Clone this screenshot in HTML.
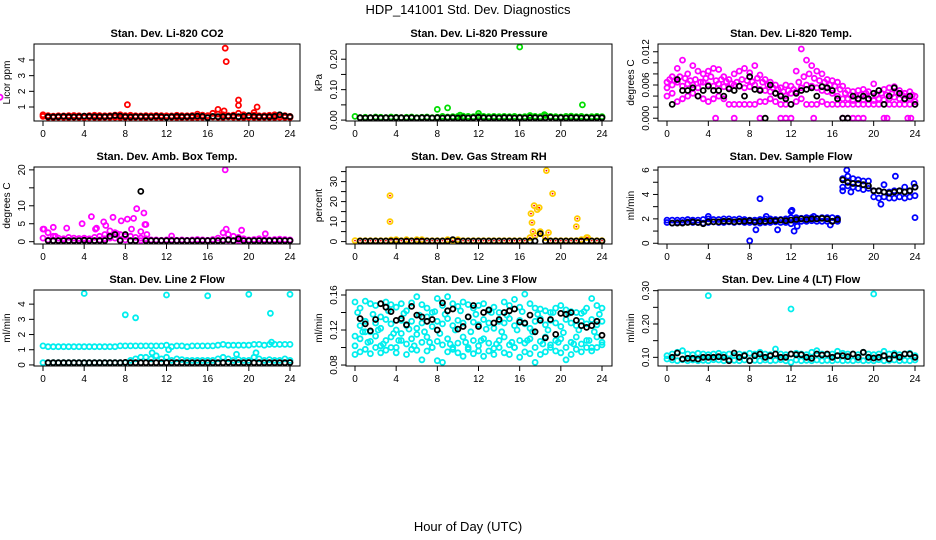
<!DOCTYPE html>
<html><head><meta charset="utf-8">
<style>
html,body{margin:0;padding:0;background:#fff;}
svg{display:block;font-family:"Liberation Sans",sans-serif;}
</style></head>
<body>
<svg id="chart" width="936" height="540" viewBox="0 0 936 540" xmlns="http://www.w3.org/2000/svg">
<rect x="0" y="0" width="936" height="540" fill="#fff"/>
<text x="468" y="14" text-anchor="middle" font-size="13">HDP_141001  Std. Dev. Diagnostics</text>
<text x="468" y="531" text-anchor="middle" font-size="13">Hour of Day (UTC)</text>
</svg>
<script>
const hours = [0,0.5,1,1.5,2,2.5,3,3.5,4,4.5,5,5.5,6,6.5,7,7.5,8,8.5,9,9.5,10,10.5,11,11.5,12,12.5,13,13.5,14,14.5,15,15.5,16,16.5,17,17.5,18,18.5,19,19.5,20,20.5,21,21.5,22,22.5,23,23.5,24];
const hoursOff = [0.25,0.75,1.25,1.75,2.25,2.75,3.25,3.75,4.25,4.75,5.25,5.75,6.25,6.75,7.25,7.75,8.25,8.75,9.25,9.75,10.25,10.75,11.25,11.75,12.25,12.75,13.25,13.75,14.25,14.75,15.25,15.75,16.25,16.75,17.25,17.75,18.25,18.75,19.25,19.75,20.25,20.75,21.25,21.75,22.25,22.75,23.25,23.75];
const xTicks = [0,4,8,12,16,20,24];

// Panel 1: CO2
const co2Red1 = [0.5,0.45,0.42,0.44,0.43,0.45,0.46,0.44,0.42,0.45,0.47,0.46,0.44,0.45,0.48,0.5,0.45,0.47,0.44,0.43,0.45,0.44,0.46,0.45,0.44,0.43,0.47,0.45,0.44,0.46,0.55,0.48,0.45,0.6,0.55,0.5,0.45,0.48,0.6,0.5,0.45,0.48,0.44,0.45,0.47,0.5,0.48,0.45,0.4];
const co2Red2 = [0.4,0.34,0.33,0.35,0.34,0.33,0.35,0.34,0.33,0.35,0.34,0.33,0.35,0.34,0.35,0.33,0.34,0.33,0.35,0.34,0.33,0.35,0.34,0.33,0.34,0.35,0.33,0.34,0.35,0.33,0.34,0.35,0.33,0.36,0.35,0.34,0.36,0.35,0.34,0.33,0.35,0.34,0.33,0.35,0.34,0.33,0.35,0.34,0.33];
const co2RedOutX = [8.2,17.7,17.8,19,19,20.8,17,17.6,20.5];
const co2RedOutY = [1.15,4.75,3.9,1.45,1.1,1.0,0.85,0.75,0.65];
const co2Black = [null,0.38,0.37,0.38,0.4,0.38,0.37,0.39,0.42,0.4,0.38,0.39,0.38,0.4,0.45,0.42,0.38,0.37,0.38,0.39,0.38,0.37,0.4,0.39,0.35,0.38,0.4,0.38,0.39,0.4,0.42,0.4,0.32,0.4,0.38,0.39,0.4,0.42,0.38,0.4,0.45,0.4,0.38,0.39,0.38,0.4,0.5,0.42,0.38];

// Panel 2: Pressure
const presGreen = [0.012,0.008,0.009,0.008,0.01,0.009,0.008,0.01,0.009,0.008,0.009,0.01,0.008,0.009,0.01,0.008,0.009,0.012,0.01,0.011,0.012,0.013,0.012,0.011,0.014,0.012,0.011,0.012,0.011,0.012,0.011,0.012,0.01,0.011,0.013,0.012,0.011,0.015,0.012,0.011,0.01,0.012,0.013,0.011,0.012,0.01,0.011,0.012,0.011];
const presGreenOutX = [8,9,16,22.1,12,18.4,10.2,17];
const presGreenOutY = [0.035,0.04,0.24,0.05,0.022,0.018,0.016,0.015];
const presBlack = [null,0.008,0.007,0.008,0.008,0.007,0.008,0.007,0.008,0.008,0.007,0.008,0.007,0.008,0.008,0.007,0.008,0.007,0.008,0.008,0.007,0.008,0.007,0.008,0.009,0.008,0.007,0.008,0.007,0.008,0.008,0.007,0.008,0.007,0.008,0.008,0.007,0.008,0.009,0.007,0.008,0.007,0.008,0.008,0.007,0.008,0.007,0.008,0.008];

// Panel 3: Li-820 Temp
const tempM1 = [0.0065,0.0075,0.009,0.0105,0.008,0.0095,0.0085,0.008,0.0085,0.009,0.0088,0.0075,0.007,0.008,0.0085,0.009,0.0082,0.0095,0.0078,0.007,0.0065,0.006,0.0055,0.006,0.0058,0.0085,0.0125,0.0105,0.0095,0.0085,0.008,0.007,0.0068,0.0065,0.0058,0.005,0.0048,0.005,0.0052,0.0048,0.0062,0.005,0.0052,0.0055,0.0057,0.005,0.0045,0.0048,0.004];
const tempM2 = [0.0055,0.006,0.0065,0.0058,0.0062,0.006,0.0055,0.0065,0.006,0.0058,0.0062,0.0057,0.0055,0.006,0.0058,0.0055,0.0057,0.006,0.0052,0.005,0.0048,0.0045,0.0042,0.004,0.0045,0.0048,0.0055,0.006,0.0058,0.0055,0.005,0.0048,0.0045,0.004,0.0035,0.0035,0.0032,0.0035,0.0033,0.0035,0.0032,0.0035,0.0033,0.0035,0.0038,0.0035,0.0033,0.0035,0.003];
const tempM3 = [0.004,0.0045,0.003,0.0035,0.004,0.0045,0.004,0.0035,0.003,0.0035,0.004,0.0035,0.0025,0.0025,0.0025,0.0025,0.0025,0.0025,0.003,0.003,0.0035,0.003,0.0025,0.0025,0.0025,0.003,0.0035,0.0025,0.0025,0.0025,0.003,0.0025,0.0025,0.0025,0.0025,0.0025,0.0025,0.0025,0.0025,0.0025,0.0025,0.0025,0.0025,0.0025,0.0025,0.0025,0.0025,0.0025,0.0025];
const tempM4 = [0.007,0.0068,0.0075,0.0072,0.0068,0.007,0.0065,0.0072,0.0075,0.0068,0.007,0.0066,0.0062,0.0065,0.007,0.0068,0.0066,0.0072,0.0065,0.006,0.0055,0.0052,0.0048,0.005,0.0052,0.0065,0.0075,0.008,0.0072,0.0068,0.0065,0.006,0.0058,0.0052,0.0045,0.0042,0.004,0.0042,0.0045,0.004,0.0042,0.0045,0.0042,0.0044,0.0046,0.0042,0.004,0.0042,0.0038];
const tempZeroX = [4.7,6.5,9,11,11.5,12,14.2,17,17.5,18,18.5,19,21,21.3,23.3,23.6];
const tempBlack = [null,0.0025,0.007,0.005,0.005,0.0055,0.004,0.005,0.0058,0.005,0.005,0.004,0.0053,0.005,0.0058,0.004,0.0075,0.0052,0.005,0.0,0.006,0.0045,0.004,0.0035,0.0025,0.0045,0.005,0.0052,0.0055,0.004,0.0057,0.0055,0.005,0.0035,0.0,0.0,0.004,0.0035,0.004,0.0035,0.0045,0.005,0.0025,0.004,0.0055,0.0045,0.0035,0.004,0.0025];

// Panel 4: Amb Box Temp
const ambM1 = [3.5,2.5,1.5,1,0.8,1.2,1,0.9,1,0.8,1.2,1.5,2,3,2.5,2,1.5,1.5,1.2,1,0.8,0.5,0.5,0.4,0.5,0.5,0.4,0.5,0.4,0.5,0.6,0.5,0.4,0.6,1,2.5,2,1.5,1.2,0.8,0.5,0.6,0.8,0.6,0.5,0.6,0.7,0.6,0.5];
const ambM2 = [1,0.5,0.3,0.3,0.3,0.3,0.3,0.3,0.5,0.3,0.3,0.5,0.8,1,1,0.5,0.5,0.3,0.3,0.3,0.3,0.3,0.3,0.3,0.3,0.3,0.3,0.3,0.3,0.3,0.3,0.3,0.3,0.3,0.3,0.5,0.4,0.3,0.3,0.3,0.3,0.3,0.3,0.3,0.3,0.3,0.3,0.3,0.3];
const ambOutX = [0.1,1,2.3,3.8,4.7,5.2,5.9,6.1,6.8,7.2,7.6,8.2,8.8,9.1,9.8,9.9,10,9.5,10.1,17.7,17.8,19.3,21.6,12.5,1.2,5.1,8.6];
const ambOutY = [3.5,4,3.8,5,7,3.8,5.5,4.5,6.8,2.2,5.8,6.3,6.5,9.2,8,4.8,4.8,2.8,2,20,3.5,3.2,2.2,1.6,1.5,3.5,3.5];
const ambBlack = [null,0.3,0.3,0.3,0.3,0.3,0.3,0.3,0.4,0.3,0.3,0.3,0.3,1.5,2,0.3,2,0.3,0.3,14,0.3,0.3,0.3,0.3,0.3,0.3,0.3,0.3,0.3,0.3,0.3,0.3,0.3,0.3,0.3,0.3,0.5,0.3,0.8,0.3,0.3,0.3,0.3,0.3,0.3,0.3,0.3,0.3,0.3];

// Panel 5: Gas Stream RH
const rhYellow = [0.5,0.5,0.5,0.5,0.5,0.5,0.5,0.8,1,0.5,1,0.5,1,1,0.5,0.5,0.5,0.5,1,0.5,1,0.5,0.5,0.5,0.5,0.5,0.5,0.5,0.5,0.5,0.5,0.5,0.5,0.5,2,3,4,2,0.5,0.5,0.5,0.5,0.5,0.5,1,2,0.5,0.5,0.5];
const rhOutX = [3.4,3.4,17.1,17.2,17.4,17.7,17.9,18.6,19.2,21.6,21.5,22.6,17.3,18,18.8];
const rhOutY = [23,10,14,9.5,18,16,17,35.5,24,11.5,7.5,2,5,5,4.5];
const rhBlack = [null,0.3,0.3,0.3,0.3,0.3,0.3,0.3,0.3,0.3,0.3,0.3,0.3,0.3,0.3,0.3,0.3,0.3,0.3,1,0.3,0.3,0.3,0.3,0.3,0.3,0.3,0.3,0.3,0.3,0.3,0.3,0.3,0.3,0.3,0.3,4,0.3,0.3,0.3,0.3,0.3,0.3,0.3,0.3,0.3,0.3,0.3,0.3];

// Panel 6: Sample Flow
const sfBlue1 = [1.9,1.9,1.9,1.9,1.95,1.9,1.9,1.95,2,1.95,1.95,2,2,1.95,2,1.95,1.9,1.9,1.95,2,2,1.95,1.95,2,2.1,2.1,2.05,2.1,2.1,2.05,2.1,2.1,2.1,2.05,5.3,5.5,5.3,5.2,5.1,5.1,4.3,4.3,4.2,4.2,4.3,4.3,4.2,4.3,4.6];
const sfBlue2 = [1.7,1.65,1.7,1.7,1.75,1.7,1.7,1.65,1.7,1.75,1.7,1.7,1.75,1.7,1.75,1.7,1.7,1.7,1.65,1.7,1.7,1.75,1.7,1.7,1.6,1.8,1.8,1.8,1.85,1.8,1.8,1.8,1.8,1.8,4.6,4.7,4.6,4.5,4.4,4.5,3.8,3.7,3.8,3.7,3.7,3.8,3.7,3.8,3.9];
const sfOutX = [4,8,8.6,9,9.6,10.7,12,12.1,12.3,12.6,14.2,15.8,17,17.4,17.8,20.7,21,22.1,23,23.9,24];
const sfOutY = [2.2,0.2,1.1,3.65,2.2,1.1,2.6,2.7,1.0,1.4,2.2,1.5,4.3,6.0,4.2,3.2,4.8,5.5,4.6,4.9,2.1];
const sfBlack = [null,1.65,1.65,1.65,1.7,1.75,1.7,1.6,1.75,1.75,1.75,1.8,1.8,1.75,1.8,1.8,1.85,1.75,1.8,1.8,1.85,1.85,1.9,1.85,1.9,1.95,2,1.95,2,2,2.05,2,1.8,1.95,5.2,5,4.9,4.9,4.8,4.7,4.3,4.3,4.2,4.1,4.2,4.3,4.2,4.3,4.6];

// Panel 7: Line 2 Flow
const l2Cyan1 = [1.25,1.2,1.2,1.2,1.2,1.2,1.2,1.2,1.2,1.2,1.2,1.2,1.2,1.2,1.2,1.25,1.25,1.25,1.25,1.25,1.25,1.25,1.25,1.25,1.3,1.2,1.25,1.25,1.2,1.25,1.25,1.25,1.25,1.25,1.3,1.35,1.3,1.3,1.3,1.3,1.3,1.35,1.35,1.3,1.35,1.35,1.35,1.35,1.35];
const l2Cyan2 = [0.15,0.15,0.15,0.15,0.15,0.15,0.15,0.15,0.15,0.15,0.15,0.15,0.15,0.15,0.15,0.15,0.15,0.3,0.4,0.5,0.5,0.4,0.6,0.4,0.5,0.3,0.4,0.35,0.3,0.3,0.3,0.3,0.3,0.3,0.4,0.5,0.4,0.3,0.35,0.3,0.3,0.5,0.4,0.3,0.35,0.3,0.3,0.4,0.3];
const l2OutX = [4,8,9,12,16,20,22.1,24,10.6,18.8,20.7,22.2,12.2];
const l2OutY = [4.7,3.3,3.1,4.6,4.55,4.65,3.4,4.65,0.8,0.7,0.8,1.5,1.0];
const l2Black = [null,0.15,0.15,0.15,0.15,0.15,0.15,0.15,0.15,0.15,0.15,0.15,0.15,0.15,0.15,0.15,0.17,0.15,0.15,0.15,0.15,0.15,0.15,0.15,0.15,0.15,0.15,0.15,0.15,0.15,0.15,0.15,0.15,0.15,0.15,0.15,0.17,0.15,0.15,0.15,0.16,0.15,0.15,0.15,0.15,0.15,0.15,0.15,0.16];

// Panel 8: Line 3 Flow
const l3Cyan1 = [0.152,0.145,0.153,0.15,0.148,0.135,0.152,0.149,0.146,0.15,0.142,0.151,0.158,0.149,0.145,0.14,0.156,0.148,0.158,0.15,0.147,0.152,0.149,0.145,0.148,0.15,0.142,0.146,0.14,0.152,0.148,0.155,0.146,0.161,0.15,0.145,0.144,0.142,0.14,0.145,0.148,0.143,0.141,0.14,0.139,0.145,0.156,0.148,0.145];
const l3Cyan2 = [0.113,0.125,0.13,0.118,0.128,0.122,0.132,0.127,0.12,0.131,0.125,0.13,0.122,0.128,0.135,0.124,0.13,0.127,0.133,0.125,0.131,0.128,0.135,0.129,0.126,0.132,0.128,0.122,0.13,0.128,0.133,0.125,0.131,0.127,0.122,0.13,0.133,0.126,0.131,0.128,0.124,0.132,0.128,0.125,0.13,0.127,0.132,0.126,0.13];
const l3Cyan3 = [0.102,0.11,0.098,0.107,0.113,0.102,0.108,0.112,0.1,0.108,0.104,0.11,0.097,0.106,0.112,0.1,0.107,0.103,0.11,0.098,0.105,0.112,0.1,0.108,0.102,0.11,0.105,0.099,0.108,0.112,0.103,0.1,0.108,0.105,0.11,0.1,0.107,0.112,0.103,0.108,0.11,0.1,0.106,0.112,0.104,0.108,0.1,0.112,0.106];
const l3Cyan4 = [0.092,0.095,0.118,0.093,0.1,0.094,0.097,0.1,0.094,0.116,0.092,0.098,0.115,0.086,0.096,0.1,0.085,0.083,0.095,0.1,0.094,0.09,0.098,0.093,0.096,0.09,0.096,0.092,0.1,0.094,0.092,0.1,0.089,0.095,0.093,0.083,0.092,0.095,0.1,0.096,0.094,0.086,0.092,0.098,0.095,0.1,0.096,0.1,0.103];
const l3Cyan5 = [0.14,0.118,0.106,0.138,0.12,0.104,0.142,0.116,0.108,0.139,0.121,0.102,0.137,0.118,0.106,0.141,0.116,0.138,0.104,0.12,0.142,0.106,0.118,0.138,0.108,0.121,0.14,0.104,0.118,0.137,0.106,0.12,0.141,0.108,0.118,0.138,0.104,0.12,0.14,0.106,0.117,0.139,0.104,0.12,0.141,0.108,0.118,0.138];
const l3Black = [null,0.133,0.127,0.119,0.132,0.15,0.146,0.141,0.131,0.133,0.126,0.147,0.137,0.135,0.13,0.132,0.12,0.151,0.142,0.144,0.121,0.124,0.135,0.148,0.124,0.14,0.143,0.128,0.132,0.14,0.142,0.144,0.129,0.128,0.137,0.118,0.131,0.111,0.132,0.115,0.139,0.138,0.14,0.131,0.125,0.123,0.125,0.13,0.114];

// Panel 9: Line 4 (LT) Flow
const l4Cyan1 = [0.105,0.11,0.115,0.12,0.11,0.108,0.112,0.11,0.108,0.11,0.112,0.108,0.11,0.105,0.11,0.108,0.112,0.11,0.115,0.11,0.108,0.125,0.11,0.108,0.11,0.112,0.11,0.108,0.115,0.12,0.11,0.108,0.11,0.118,0.112,0.11,0.11,0.108,0.115,0.11,0.108,0.11,0.118,0.11,0.112,0.108,0.11,0.112,0.105];
const l4Cyan2 = [0.095,0.092,0.09,0.093,0.09,0.092,0.09,0.091,0.09,0.093,0.092,0.09,0.093,0.091,0.09,0.092,0.09,0.091,0.09,0.092,0.09,0.091,0.093,0.09,0.085,0.092,0.09,0.091,0.09,0.092,0.09,0.091,0.09,0.092,0.09,0.091,0.09,0.092,0.09,0.091,0.09,0.093,0.09,0.091,0.092,0.09,0.091,0.09,0.092];
const l4OutX = [4,12,20];
const l4OutY = [0.285,0.245,0.29];
const l4Black = [null,0.1,0.113,0.095,0.097,0.097,0.095,0.1,0.1,0.1,0.102,0.1,0.09,0.113,0.1,0.105,0.09,0.105,0.11,0.1,0.105,0.11,0.1,0.1,0.11,0.108,0.108,0.1,0.097,0.11,0.107,0.11,0.1,0.105,0.105,0.102,0.11,0.1,0.115,0.1,0.098,0.1,0.105,0.095,0.107,0.1,0.11,0.11,0.1];

const NS = "http://www.w3.org/2000/svg";
const svg = document.getElementById('chart');
function mk(tag, attrs, parent) {
  const e = document.createElementNS(NS, tag);
  for (const k in attrs) e.setAttribute(k, attrs[k]);
  (parent || svg).appendChild(e);
  return e;
}

const colBox = [[34,300,43,290],[346,612,355,602],[658,924,667,915]];
const rowBox = [[44,121],[167,244],[290,366]];

const panels = [
  {name:'co2', title:'Stan. Dev. Li-820 CO2', ylab:'Licor ppm', r:0,c:0, top:5.02, bot:0.107, ticks:[1,2,3,4], labels:['1','2','3','4'],
   series:[[hours,co2Red1,'#ff0000'],[hours,co2Red2,'#ff0000'],[co2RedOutX,co2RedOutY,'#ff0000'],[hours,co2Black,'#000']]},
  {name:'pressure', title:'Stan. Dev. Li-820 Pressure', ylab:'kPa', r:0,c:1, top:0.25, bot:-0.003, ticks:[0,0.05,0.1,0.15,0.2], labels:['0.00','','0.10','','0.20'],
   series:[[hours,presGreen,'#00dd00'],[presGreenOutX,presGreenOutY,'#00dd00'],[hours,presBlack,'#000']]},
  {name:'licor-temp', title:'Stan. Dev. Li-820 Temp.', ylab:'degrees C', r:0,c:2, top:0.0134, bot:-0.0005, ticks:[0,0.002,0.004,0.006,0.008,0.01,0.012], labels:['0.000','','','0.006','','','0.012'],
   series:[[hours,tempM1,'#ff00ff'],[hours,tempM2,'#ff00ff'],[hours,tempM3,'#ff00ff'],[hoursOff,tempM4,'#ff00ff'],[tempZeroX,tempZeroX.map(()=>0),'#ff00ff'],[hours,tempBlack,'#000']]},
  {name:'amb-box-temp', title:'Stan. Dev. Amb. Box Temp.', ylab:'degrees C', r:1,c:0, top:20.8, bot:-0.64, ticks:[0,5,10,15,20], labels:['0','5','10','','20'],
   series:[[hours,ambM1,'#ff00ff'],[hours,ambM2,'#ff00ff'],[ambOutX,ambOutY,'#ff00ff'],[hours,ambBlack,'#000']]},
  {name:'gas-stream-rh', title:'Stan. Dev. Gas Stream RH', ylab:'percent', r:1,c:1, top:37.3, bot:-1.2, ticks:[0,5,10,15,20,25,30,35], labels:['0','','10','','20','','30',''],
   series:[[hours,rhYellow,'#ffcc00'],[rhOutX,rhOutY,'#ffcc00'],[hours,rhBlack,'#000']], inner:'#ff0000'},
  {name:'sample-flow', title:'Stan. Dev. Sample Flow', ylab:'ml/min', r:1,c:2, top:6.25, bot:-0.06, ticks:[0,1,2,3,4,5,6], labels:['0','','2','','4','','6'],
   series:[[hours,sfBlue1,'#0000ff'],[hours,sfBlue2,'#0000ff'],[sfOutX,sfOutY,'#0000ff'],[hours,sfBlack,'#000']]},
  {name:'line2-flow', title:'Stan. Dev. Line 2 Flow', ylab:'ml/min', r:2,c:0, top:4.93, bot:-0.07, ticks:[0,1,2,3,4], labels:['0','1','2','3','4'],
   series:[[hours,l2Cyan1,'#00eeee'],[hours,l2Cyan2,'#00eeee'],[l2OutX,l2OutY,'#00eeee'],[hours,l2Black,'#000']]},
  {name:'line3-flow', title:'Stan. Dev. Line 3 Flow', ylab:'ml/min', r:2,c:1, top:0.1657, bot:0.0789, ticks:[0.08,0.1,0.12,0.14,0.16], labels:['0.08','','0.12','','0.16'],
   series:[[hours,l3Cyan1,'#00eeee'],[hours,l3Cyan2,'#00eeee'],[hours,l3Cyan3,'#00eeee'],[hours,l3Cyan4,'#00eeee'],[hoursOff,l3Cyan5,'#00eeee'],[hours,l3Black,'#000']]},
  {name:'line4-flow', title:'Stan. Dev. Line 4 (LT) Flow', ylab:'ml/min', r:2,c:2, top:0.302, bot:0.074, ticks:[0.1,0.15,0.2,0.25,0.3], labels:['0.10','','0.20','','0.30'],
   series:[[hours,l4Cyan1,'#00eeee'],[hours,l4Cyan2,'#00eeee'],[l4OutX,l4OutY,'#00eeee'],[hours,l4Black,'#000']]}
];

panels.forEach(p => {
  const [bl, br, x0, x24] = colBox[p.c];
  const [bt, bb] = rowBox[p.r];
  const xs = v => x0 + (x24 - x0) * v / 24;
  const ys = v => bt + (bb - bt) * (p.top - v) / (p.top - p.bot);
  const g = mk('g', {});
  
  
  const t = mk('text', {x:(bl+br)/2, y:bt-7, 'text-anchor':'middle', 'font-size':'11', 'font-weight':'bold'}, g);
  
  
  t.textContent = p.title;
  const pts = mk('g', {}, g);
  
  
  p.series.forEach(s => {
    const [sx, sy, col] = s;
    for (let i = 0; i < sy.length; i++) {
      if (sy[i] === null || sy[i] === undefined) continue;
      const cx = xs(sx[i]), cy = ys(sy[i]);
      const c = mk('circle', {cx:cx.toFixed(1), cy:cy.toFixed(1), r:2.5, fill:'none', stroke:col, 'stroke-width':1.8}, pts);
      
      
      if (p.inner && col !== '#000') {
        const d = mk('circle', {cx:cx.toFixed(1), cy:cy.toFixed(1), r:0.9, fill:p.inner}, pts);
        
        
      }
    }
  });
  const box = mk('rect', {x:bl, y:bt, width:br-bl, height:bb-bt, fill:'none', stroke:'#000', 'stroke-width':1}, g);
  
  
  const xa = mk('g', {}, g);
  
  
  mk('line', {x1:xs(0), x2:xs(24), y1:bb, y2:bb, stroke:'#000'}, xa);
  xTicks.forEach(v => {
    mk('line', {x1:xs(v), x2:xs(v), y1:bb, y2:bb+5, stroke:'#000'}, xa);
    const tl = mk('text', {x:xs(v), y:bb+16, 'text-anchor':'middle', 'font-size':'10'}, xa);
    
    
    tl.textContent = v;
  });
  const ya = mk('g', {}, g);
  
  
  mk('line', {x1:bl, x2:bl, y1:ys(p.ticks[0]), y2:ys(p.ticks[p.ticks.length-1]), stroke:'#000'}, ya);
  p.ticks.forEach((v, i) => {
    const y = ys(v);
    mk('line', {x1:bl-5, x2:bl, y1:y, y2:y, stroke:'#000'}, ya);
    if (p.labels[i]) {
      const tl = mk('text', {x:0, y:0, 'text-anchor':'middle', 'font-size':'10', transform:`translate(${bl-9},${y}) rotate(-90)`}, ya);
      
      
      tl.textContent = p.labels[i];
    }
  });
  const yl = mk('text', {x:0, y:0, 'text-anchor':'middle', 'font-size':'10', transform:`translate(${bl-24},${(bt+bb)/2}) rotate(-90)`}, g);
  
  
  yl.textContent = p.ylab;
});
</script>
</body></html>
